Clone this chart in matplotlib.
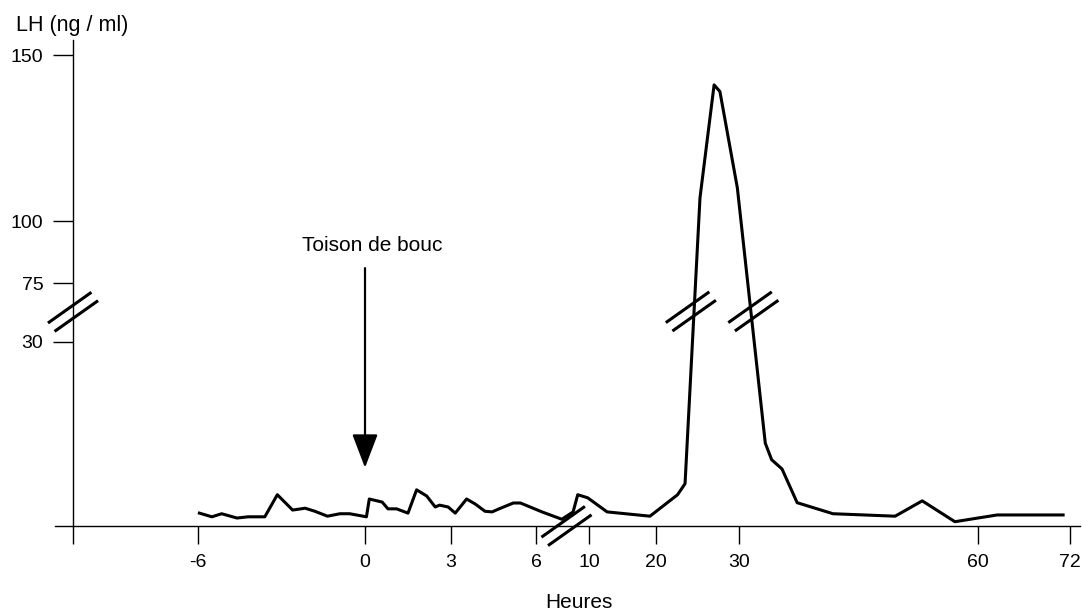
import matplotlib
matplotlib.use("Agg")
import matplotlib.pyplot as plt
import numpy as np
from matplotlib.transforms import IdentityTransform

plt.rcParams['font.family'] = ['Liberation Sans', 'DejaVu Sans']
plt.rcParams['font.size'] = 14

# LH surge after exposure to buck fleece (hours vs ng/ml)
hours = [-5.95, -5.5, -5.15, -4.6, -4.2, -3.6, -3.15, -2.6, -2.15, -1.8,
         -1.35, -0.9, -0.55, 0.05, 0.15, 0.6, 0.8, 1.1, 1.5, 1.8,
         2.15, 2.45, 2.6, 2.9, 3.15, 3.55, 3.85, 4.2, 4.45, 4.75,
         5.2, 5.45, 6.45, 7.95, 8.8, 9.15, 9.9, 12.7, 19.1, 22.6,
         23.5, 25.3, 27.0, 27.7, 29.8, 33.3, 34.1, 35.4, 37.3, 41.8,
         49.6, 53.0, 57.1, 62.5, 71.1]
lh = [2.1, 1.5, 2.0, 1.3, 1.5, 1.5, 5.1, 2.6, 2.9, 2.4,
      1.6, 2.0, 2.0, 1.5, 4.4, 3.9, 2.8, 2.8, 2.1, 5.9,
      4.9, 3.1, 3.4, 3.1, 2.1, 4.4, 3.6, 2.4, 2.3, 2.9,
      3.75, 3.75, 2.3, 1.1, 2.3, 5.1, 4.6, 2.3, 1.6, 5.1,
      6.9, 107, 141, 139, 110, 13.5, 10.8, 9.3, 3.8, 2.0,
      1.6, 4.1, 0.7, 1.8, 1.8]

x_ticks = [-6, 0, 3, 6, 10, 20, 30, 60, 72]
x_labels = ['-6', '0', '3', '6', '10', '20', '30', '60', '72']
y_ticks = [30, 75, 100, 150]
y_labels = ['30', '75', '100', '150']

# the drawing uses a broken, uneven scale on both axes -> piecewise mapping
X_PX = [198, 365, 451, 536, 589, 656, 739, 978, 1070]
Y_V = [0, 30, 75, 100, 150]
Y_PX = [86, 270, 329, 391, 557]

W, H = 1082, 612


def pw(v, xs, ys):
    v = np.asarray(v, dtype=float)
    out = np.interp(v, xs, ys)
    lo = ys[0] + (v - xs[0]) * (ys[1] - ys[0]) / (xs[1] - xs[0])
    hi = ys[-1] + (v - xs[-1]) * (ys[-1] - ys[-2]) / (xs[-1] - xs[-2])
    out = np.where(v < xs[0], lo, out)
    out = np.where(v > xs[-1], hi, out)
    return out


fwd_x = lambda v: pw(v, x_ticks, X_PX)
inv_x = lambda p: pw(p, X_PX, x_ticks)
fwd_y = lambda v: pw(v, Y_V, Y_PX)
inv_y = lambda p: pw(p, Y_PX, Y_V)

fig = plt.figure(figsize=(W / 100, H / 100), dpi=100)
ax = fig.add_axes([0, 0, 1, 1])
ax.set_xscale('function', functions=(fwd_x, inv_x))
ax.set_yscale('function', functions=(fwd_y, inv_y))
ax.set_xlim(float(inv_x(0)), float(inv_x(W)))
ax.set_ylim(float(inv_y(0)), float(inv_y(H)))

y_axis_h = float(inv_x(73))

for s in ['top', 'right']:
    ax.spines[s].set_visible(False)
ax.spines['left'].set_position(('data', y_axis_h))
ax.spines['left'].set_bounds(0, float(inv_y(H - 40)))
ax.spines['bottom'].set_position(('data', 0))
ax.spines['bottom'].set_bounds(float(inv_x(55)), float(inv_x(1080)))
for s in ['left', 'bottom']:
    ax.spines[s].set_linewidth(1.0)

ax.set_xticks([y_axis_h] + x_ticks, [''] + x_labels)
ax.set_yticks(y_ticks, y_labels)
ax.tick_params(axis='x', direction='out', length=13, width=1, pad=7, labelsize=14)
ax.tick_params(axis='y', direction='out', length=14.4, width=1, pad=7, labelsize=14)
ax.minorticks_off()

ax.plot(hours, lh, color='black', lw=2.2)


def break_mark(x, y):
    cx, cy = ax.transData.transform((x, y))
    for ox, oy in [(-3.3, 4.2), (3.3, -4.2)]:
        ax.plot([cx + ox - 20.5, cx + ox + 20.5], [cy + oy - 14.5, cy + oy + 14.5],
                color='black', lw=2.2, transform=IdentityTransform(), clip_on=False)


break_mark(y_axis_h, 53)
break_mark(8.3, 0)
break_mark(24.2, 53.3)
break_mark(31.8, 53.3)

ax.annotate('', xy=(0, 9.5), xytext=(0, 81),
            arrowprops=dict(arrowstyle='-|>,head_length=1.05,head_width=0.4',
                            mutation_scale=20, lw=1.6, color='black',
                            shrinkA=0, shrinkB=0))
ax.text(0.25, 90, 'Toison de bouc', ha='center', va='center', fontsize=15)

fig.text(72 / W, 1 - 25 / H, 'LH (ng / ml)', ha='center', va='center', fontsize=15.5)
fig.text(579 / W, 1 - 602 / H, 'Heures', ha='center', va='center', fontsize=15)

fig.savefig('out.png', dpi=100)
